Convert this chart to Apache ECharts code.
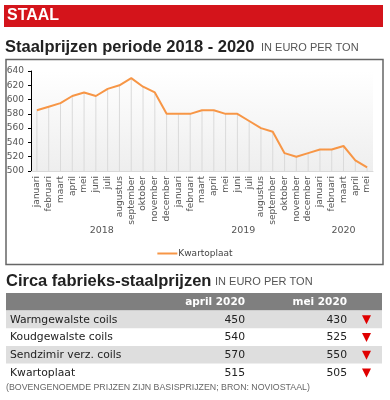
<!DOCTYPE html>
<html>
<head>
<meta charset="utf-8">
<script src="https://cdn.jsdelivr.net/npm/echarts@6/dist/echarts.min.js"></script>
<style>
html,body{margin:0;padding:0;background:#fff;}
#c{width:390px;height:400px;}
</style>
</head>
<body>
<div id="c"></div>
<script>
const monthNames = ['januari','februari','maart','april','mei','juni','juli','augustus','september','oktober','november','december'];
const years = ['2018','2019','2020'];
const monthsPerYear = [12,12,5];
const categories = [];
monthsPerYear.forEach(n => { for (let i = 0; i < n; i++) categories.push(monthNames[i]); });
const kwartoplaat = [585,590,595,605,610,605,615,620,630,618,610,580,580,580,585,585,580,580,570,560,555,525,520,525,530,530,535,515,505];
const yMin = 500, yMax = 640, yStep = 20;

const tableHeaders = ['april 2020','mei 2020'];
const tableProducts = ['Warmgewalste coils','Koudgewalste coils','Sendzimir verz. coils','Kwartoplaat'];
const tableApril = [450,540,570,515];
const tableMay = [430,525,550,505];

const chart = echarts.init(document.getElementById('c'));

const titleFont = '"Liberation Sans", sans-serif';
const axisFont = '"DejaVu Sans", sans-serif';

const option = {
  backgroundColor: '#fff',
  animation: false,
  grid: {
    left: 31, right: 17, top: 71, bottom: 229,
    show: true, borderWidth: 0,
    backgroundColor: new echarts.graphic.LinearGradient(0,0,0,1,[{offset:0,color:'#ffffff'},{offset:1,color:'#eeeeee'}])
  },
  legend: {
    data: [{name:'Kwartoplaat', icon:'rect'}],
    left: 'center', top: 244,
    itemWidth: 20, itemHeight: 2,
    textStyle: {fontFamily: axisFont, fontSize: 9, color: '#444', padding:[0,0,0,-4]}
  },
  xAxis: {
    type: 'category', data: categories, boundaryGap: true,
    axisLine: {show: true, lineStyle: {color: '#d9d9d9'}},
    axisTick: {show: false},
    axisLabel: {rotate: 90, interval: 0, fontFamily: axisFont, fontSize: 9, color: '#555', margin: 5}
  },
  yAxis: {
    type: 'value', min: yMin, max: yMax, interval: yStep,
    axisLine: {show: true, lineStyle: {color: '#000', width: 1}},
    axisTick: {show: true, inside: false, length: 3, lineStyle: {color: '#000'}},
    splitLine: {show: false},
    axisLabel: {fontFamily: axisFont, fontSize: 9, color: '#555', margin: 7}
  },
  series: [
    {
      name: 'drop', type: 'bar', data: kwartoplaat, barWidth: 1,
      itemStyle: {color: '#dadada'}, silent: true, z: 1
    },
    {
      name: 'Kwartoplaat', type: 'line', data: kwartoplaat,
      symbol: 'none', lineStyle: {color: '#F79646', width: 2},
      itemStyle: {color: '#F79646'}, z: 3
    }
  ]
};
chart.setOption(option);

const g = [];
g.push({type:'rect', shape:{x:4,y:5,width:379,height:22}, style:{fill:'#d4141b'}, z:10});
g.push({type:'text', x:7, y:16, style:{text:'STAAL', fill:'#fff', font:'bold 16px "Liberation Sans", sans-serif', verticalAlign:'middle'}, z:11});
g.push({type:'text', x:5, y:47, style:{text:'Staalprijzen periode 2018 - 2020', fill:'#222', font:'bold 16.5px ' + titleFont, verticalAlign:'middle'}, z:11});
g.push({type:'text', x:261, y:48, style:{text:'IN EURO PER TON', fill:'#555', font:'11px ' + titleFont, verticalAlign:'middle'}, z:11});
g.push({type:'rect', shape:{x:6,y:59.5,width:377,height:205}, style:{fill:null, stroke:'#666', lineWidth:1.5}, z:10});

let start = 0;
years.forEach((y, i) => {
  const a = chart.convertToPixel({xAxisIndex:0}, start);
  const b = chart.convertToPixel({xAxisIndex:0}, start + monthsPerYear[i] - 1);
  g.push({type:'text', x:(a+b)/2, y:231, style:{text:y, fill:'#555', font:'9.5px ' + axisFont, align:'center', verticalAlign:'middle'}, z:11});
  start += monthsPerYear[i];
});

g.push({type:'text', x:6, y:281, style:{text:'Circa fabrieks-staalprijzen', fill:'#222', font:'bold 16.5px ' + titleFont, verticalAlign:'middle'}, z:11});
g.push({type:'text', x:215, y:282, style:{text:'IN EURO PER TON', fill:'#555', font:'11px ' + titleFont, verticalAlign:'middle'}, z:11});

const tx = 6, tw = 376, hy = 293, hh = 17.5, rh = 17.7;
const colA = 245, colB = 347;
g.push({type:'rect', shape:{x:tx,y:hy,width:tw,height:hh}, style:{fill:'#7f7f7f'}, z:10});
g.push({type:'text', x:colA, y:hy+hh/2+0.5, style:{text:tableHeaders[0], fill:'#fff', font:'bold 10.5px ' + axisFont, align:'right', verticalAlign:'middle'}, z:11});
g.push({type:'text', x:colB, y:hy+hh/2+0.5, style:{text:tableHeaders[1], fill:'#fff', font:'bold 10.5px ' + axisFont, align:'right', verticalAlign:'middle'}, z:11});
tableProducts.forEach((p, i) => {
  const ry = hy + hh + i*rh;
  const cy = ry + rh/2 + 0.5;
  if (i % 2 === 0) g.push({type:'rect', shape:{x:tx,y:ry,width:tw,height:rh}, style:{fill:'#dedede'}, z:10});
  g.push({type:'text', x:10, y:cy, style:{text:p, fill:'#222', font:'10.8px ' + axisFont, verticalAlign:'middle'}, z:11});
  g.push({type:'text', x:colA, y:cy, style:{text:String(tableApril[i]), fill:'#222', font:'10.8px ' + axisFont, align:'right', verticalAlign:'middle'}, z:11});
  g.push({type:'text', x:colB, y:cy, style:{text:String(tableMay[i]), fill:'#222', font:'10.8px ' + axisFont, align:'right', verticalAlign:'middle'}, z:11});
  if (tableMay[i] < tableApril[i]) {
    g.push({type:'polygon', shape:{points:[[362,cy-4.5],[371,cy-4.5],[366.5,cy+4.5]]}, style:{fill:'#e00000'}, z:11});
  }
});
g.push({type:'text', x:6, y:388, style:{text:'(BOVENGENOEMDE PRIJZEN ZIJN BASISPRIJZEN; BRON: NOVIOSTAAL)', fill:'#666', font:'8.8px ' + titleFont, verticalAlign:'middle'}, z:11});

chart.setOption({graphic: g});
</script>
</body>
</html>
